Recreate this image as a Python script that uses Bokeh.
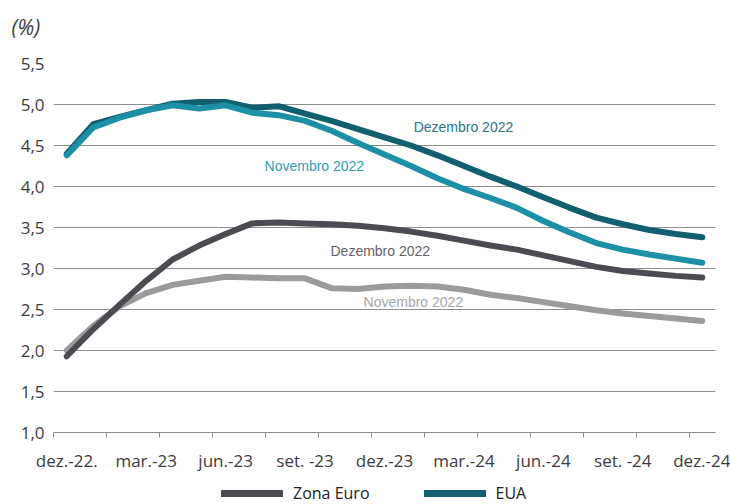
from bokeh.plotting import figure
from bokeh.layouts import column
from bokeh.models import (FixedTicker, Label, Legend, LegendItem, Range1d,
                          CustomJSTickFormatter)
from bokeh.embed import file_html
from bokeh.resources import INLINE

# ---- data (monthly, Dec-2022 .. Dec-2024) ----
months = ["dez.-22", "jan.-23", "fev.-23", "mar.-23", "abr.-23", "mai.-23", "jun.-23",
          "jul.-23", "ago.-23", "set.-23", "out.-23", "nov.-23", "dez.-23",
          "jan.-24", "fev.-24", "mar.-24", "abr.-24", "mai.-24", "jun.-24",
          "jul.-24", "ago.-24", "set.-24", "out.-24", "nov.-24", "dez.-24"]

eua_dez = [4.40, 4.76, 4.85, 4.93, 5.01, 5.03, 5.03, 4.96, 4.98, 4.89, 4.80, 4.70, 4.60,
           4.50, 4.38, 4.25, 4.12, 4.00, 3.87, 3.74, 3.62, 3.54, 3.47, 3.42, 3.38]
eua_nov = [4.38, 4.72, 4.84, 4.93, 4.99, 4.95, 4.99, 4.90, 4.87, 4.80, 4.68, 4.53, 4.39,
           4.25, 4.10, 3.97, 3.86, 3.74, 3.58, 3.44, 3.31, 3.23, 3.17, 3.12, 3.07]
ze_dez = [1.93, 2.26, 2.56, 2.85, 3.11, 3.28, 3.42, 3.55, 3.56, 3.55, 3.54, 3.52, 3.49,
          3.45, 3.40, 3.34, 3.28, 3.23, 3.16, 3.09, 3.02, 2.97, 2.94, 2.91, 2.89]
ze_nov = [2.00, 2.30, 2.54, 2.70, 2.80, 2.85, 2.90, 2.89, 2.88, 2.88, 2.76, 2.75, 2.78,
          2.79, 2.78, 2.74, 2.68, 2.64, 2.59, 2.54, 2.49, 2.45, 2.42, 2.39, 2.36]

x_tick_labels = ["dez.-22.", "mar.-23", "jun.-23", "set. -23", "dez.-23",
                 "mar.-24", "jun.-24", "set. -24", "dez.-24"]
y_ticks = [1.0, 1.5, 2.0, 2.5, 3.0, 3.5, 4.0, 4.5, 5.0, 5.5]

series_labels = ["Dezembro 2022", "Novembro 2022", "Dezembro 2022", "Novembro 2022"]
legend_labels = ["Zona Euro", "EUA"]
unit_label = "(%)"

# ---- styles ----
C_EUA_DEZ = "#115f6f"
C_EUA_NOV = "#1d8fa6"
C_ZE_DEZ = "#4b4b51"
C_ZE_NOV = "#9b9b9b"
GRID = "#8e8e8e"
TXT = "#3c3c3c"
W = 730
TOP_H = 40
LEG_H = 30
MAIN_H = 504 - TOP_H - LEG_H

idx = list(range(len(months)))


def blank(h):
    f = figure(width=W, height=h, output_backend="svg", toolbar_location=None,
               title=None, x_range=Range1d(0, 1), y_range=Range1d(0, 1),
               x_axis_location=None, y_axis_location=None,
               min_border=0, min_border_left=0, min_border_right=0,
               min_border_top=0, min_border_bottom=0)
    f.outline_line_color = None
    f.xgrid.visible = False
    f.ygrid.visible = False
    f.frame_align = False
    return f


# ---- top strip with the unit ----
top = blank(TOP_H)
top.add_layout(Label(x=11, y=TOP_H - 26, x_units="screen", y_units="screen",
                     text=unit_label, text_font="Open Sans", text_font_style="italic",
                     text_font_size="21px", text_color=TXT,
                     text_align="left", text_baseline="middle"))

# ---- main chart ----
p = figure(width=W, height=MAIN_H, output_backend="svg", toolbar_location=None,
           title=None, x_range=Range1d(-0.5, len(months) - 0.5),
           y_range=Range1d(1.0, 5.5),
           min_border_left=53, min_border_right=15, min_border_top=63 - TOP_H,
           min_border_bottom=MAIN_H - (63 - TOP_H) - 370)
p.outline_line_color = None
p.frame_align = False

p.yaxis.ticker = FixedTicker(ticks=y_ticks)
p.yaxis.formatter = CustomJSTickFormatter(code="return tick.toFixed(1).replace('.', ',');")
p.yaxis.axis_line_color = None
p.yaxis.major_tick_line_color = None
p.yaxis.minor_tick_line_color = None
p.yaxis.major_tick_out = 0
p.yaxis.major_tick_in = 0
p.yaxis.major_label_standoff = 9
p.yaxis.major_label_text_font = "Open Sans"
p.yaxis.major_label_text_font_size = "17px"
p.yaxis.major_label_text_color = TXT

p.ygrid.ticker = FixedTicker(ticks=y_ticks)
p.ygrid.grid_line_color = GRID
p.ygrid.grid_line_width = 1
p.xgrid.visible = False

label_pos = idx[::3]
minor_pos = [i - 0.5 for i in range(0, len(months), 2)]
p.xaxis.ticker = FixedTicker(ticks=label_pos, minor_ticks=minor_pos)
p.xaxis.major_label_overrides = {pos: lab for pos, lab in zip(label_pos, x_tick_labels)}
p.xaxis.axis_line_color = GRID
p.xaxis.axis_line_width = 1
p.xaxis.major_tick_line_color = None
p.xaxis.major_tick_out = 0
p.xaxis.major_tick_in = 0
p.xaxis.minor_tick_line_color = GRID
p.xaxis.minor_tick_out = 5
p.xaxis.minor_tick_in = 0
p.xaxis.major_label_standoff = 11
p.xaxis.major_label_text_font = "Open Sans"
p.xaxis.major_label_text_font_size = "17px"
p.xaxis.major_label_text_color = TXT

lw = 6
kw = dict(line_width=lw, line_cap="round", line_join="round")
p.line(idx, ze_nov, line_color=C_ZE_NOV, **kw)
p.line(idx, ze_dez, line_color=C_ZE_DEZ, **kw)
p.line(idx, eua_dez, line_color=C_EUA_DEZ, **kw)
p.line(idx, eua_nov, line_color=C_EUA_NOV, **kw)

ann = [
    (13.1, 4.72, series_labels[0], "#2f7383"),
    (7.47, 4.25, series_labels[1], "#2e9db3"),
    (9.96, 3.21, series_labels[2], "#636368"),
    (11.21, 2.59, series_labels[3], "#a6a6a6"),
]
for ax, ay, t, c in ann:
    p.add_layout(Label(x=ax, y=ay, text=t, text_font="Liberation Sans",
                       text_font_size="14px", text_color=c,
                       text_align="left", text_baseline="middle"))

# ---- legend strip (sample lines sit outside the visible range) ----
leg = blank(LEG_H)
lr_ze = leg.line([-5, -4], [-5, -5], line_color=C_ZE_DEZ, line_width=7, line_cap="round")
lr_eua = leg.line([-5, -4], [-5, -5], line_color=C_EUA_DEZ, line_width=7, line_cap="round")
legend = Legend(items=[LegendItem(label=legend_labels[0], renderers=[lr_ze]),
                       LegendItem(label=legend_labels[1], renderers=[lr_eua])],
                orientation="horizontal", location=(221, 0),
                glyph_width=62, glyph_height=14, label_height=14,
                label_standoff=10, spacing=54, padding=0, margin=0,
                border_line_color=None, background_fill_alpha=0,
                label_text_font="Open Sans", label_text_font_size="16px",
                label_text_color="#222222")
leg.add_layout(legend, "center")

layout = column(top, p, leg, spacing=0)
open("out.html", "w").write(file_html(layout, INLINE))
